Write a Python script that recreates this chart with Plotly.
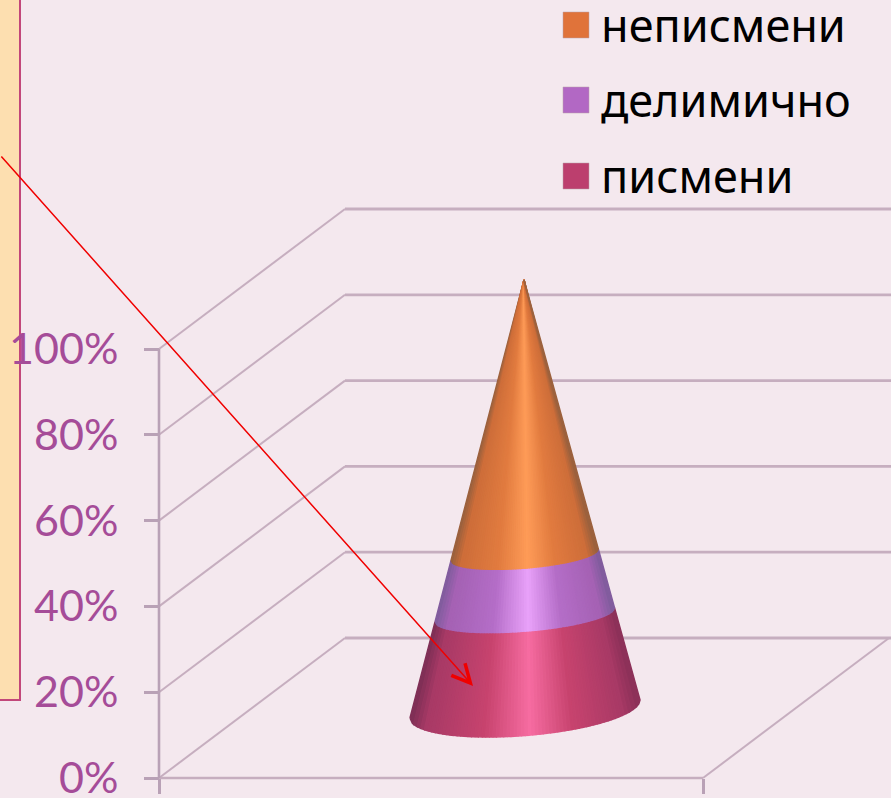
import numpy as np
import plotly.graph_objects as go

# --- data ---
series = ["писмени", "делимично", "неписмени"]
values = [22, 14, 64]
tick_values = [0, 20, 40, 60, 80, 100]
tick_labels = ["0%", "20%", "40%", "60%", "80%", "100%"]
legend_order = ["неписмени", "делимично", "писмени"]

# --- style ---
BG = "#F4E8EE"
GRID = "#C6AEBF"
AXIS = "#B9A1B6"
TICK_TXT = "#A54C98"
legend_colors = {"писмени": "#BC3F6E", "делимично": "#B268C4", "неписмени": "#E0733A"}
shades = {
    "писмени": ["#7C2E54", "#A83A66", "#C8446F", "#F76DA2", "#C8446F", "#A83A66", "#8A3058"],
    "делимично": ["#7E5C9C", "#A562B4", "#B56EC8", "#E9A2FA", "#B56EC8", "#A562B4", "#7E5C9C"],
    "неписмени": ["#96603E", "#CE6E3A", "#E27C40", "#FF9C58", "#E27C40", "#CE6E3A", "#96603E"],
}
shade_stops = [-1.0, -0.86, -0.35, 0.05, 0.42, 0.86, 1.0]

# --- pixel frame of the picture ---
W, H = 891, 798
PX_PER_PCT = 4.29
Y0_PX = 778
y_range = [(Y0_PX - H) / PX_PER_PCT, Y0_PX / PX_PER_PCT]
def py(px):
    return (Y0_PX - px) / PX_PER_PCT

X_LEFT, X_RIGHT = 159, 703
DEPTH_X, DEPTH_Y = 186, 140 / PX_PER_PCT


def hex2rgb(h):
    return np.array([int(h[i:i + 2], 16) for i in (1, 3, 5)], float)


def shade(stops, u):
    arr = np.array([hex2rgb(s) for s in stops])
    c = [np.interp(u, shade_stops, arr[:, i]) for i in range(3)]
    return "rgb(%d,%d,%d)" % tuple(c)


fig = go.Figure()


def frame(xs, ys, width, color=GRID):
    fig.add_trace(go.Scatter(x=xs, y=ys, mode="lines", showlegend=False, hoverinfo="skip",
                             line=dict(color=color, width=width)))


# walls and floor
for v in tick_values:
    frame([X_LEFT, X_LEFT + DEPTH_X], [v, v + DEPTH_Y], 2)
    frame([X_LEFT + DEPTH_X, W + 5], [v + DEPTH_Y, v + DEPTH_Y], 2.8)
frame([X_LEFT, X_RIGHT], [0, 0], 2.4)
frame([X_RIGHT, X_RIGHT + DEPTH_X], [0, DEPTH_Y], 2)
frame([X_LEFT, X_LEFT], [0, 100], 2.6, AXIS)

# cone
CX, CY = 525, py(709)
A_X, A_Y = 115, 9 / PX_PER_PCT
B = 26.5 / PX_PER_PCT
STRIPS = 64


def rim(f, u):
    t = np.arccos(np.clip(u, -1, 1))
    ratio = 1.0 if f == 0 else 0.8
    s = 1 - f
    return (CX - 1 * f + s * A_X * u,
            CY + f * 100 + s * A_Y * u - s * ratio * B * np.sin(t))


edges = np.linspace(-1, 1, STRIPS + 1)
bottoms = np.concatenate([[0], np.cumsum(values)[:-1]]) / 100
tops = np.cumsum(values) / 100
for name, f0, f1 in zip(series, bottoms, tops):
    for u0, u1 in zip(edges[:-1], edges[1:]):
        us = np.linspace(u0, u1, 4)
        low = [rim(f0, u) for u in us]
        high = [rim(f1, u) for u in us[::-1]]
        pts = low + high + [low[0]]
        col = shade(shades[name], (u0 + u1) / 2)
        fig.add_trace(go.Scatter(x=[p[0] for p in pts], y=[p[1] for p in pts], mode="lines",
                                 fill="toself", fillcolor=col, line=dict(color=col, width=1.5),
                                 showlegend=False, hoverinfo="skip"))

# legend
legend_y = [25, 100, 176]
for name, yp in zip(legend_order, legend_y):
    fig.add_trace(go.Scatter(x=[576], y=[py(yp)], mode="markers", showlegend=False, hoverinfo="skip",
                             marker=dict(symbol="square", size=26, color=legend_colors[name],
                                         line=dict(color="#B9A1A8", width=0.5))))
annotations = [dict(x=599, y=py(yp - 1), text=name, showarrow=False, xanchor="left", yanchor="middle",
                    font=dict(family="Noto Sans", size=45, color="#000000"))
               for name, yp in zip(legend_order, legend_y)]

# red arrow
annotations.append(dict(x=473, y=py(686), ax=0, ay=py(155), axref="x", ayref="y", xref="x", yref="y",
                        text="", showarrow=True, arrowhead=5, arrowsize=2.4, arrowwidth=1.5,
                        arrowcolor="#F00000", standoff=0))

fig.update_layout(
    width=W, height=H, margin=dict(l=0, r=0, t=0, b=0), autosize=False,
    paper_bgcolor=BG, plot_bgcolor=BG, showlegend=False,
    xaxis=dict(range=[0, W], domain=[0, 1], showgrid=False, zeroline=False, showline=False,
               anchor="free", position=(H - Y0_PX) / H, tickvals=[X_LEFT, X_RIGHT], ticktext=["", ""],
               ticks="outside", ticklen=15, tickwidth=2.6, tickcolor=AXIS),
    yaxis=dict(range=y_range, domain=[0, 1], showgrid=False, zeroline=False, showline=False,
               anchor="free", position=X_LEFT / W, tickvals=tick_values, ticktext=tick_labels,
               ticks="outside", ticklen=15, tickwidth=3, tickcolor=AXIS, ticklabelstandoff=17,
               ticklabeloverflow="allow", automargin=False,
               tickfont=dict(family="Lato", size=43, color=TICK_TXT)),
    shapes=[dict(type="rect", xref="paper", yref="paper", x0=-0.01, x1=20 / W,
                 y0=(H - 700) / H, y1=1.01, fillcolor="#FDDFB0",
                 line=dict(color="#C2477A", width=2), layer="below")],
    annotations=annotations,
)

fig.write_html("out.html", config={"displayModeBar": False},
               post_script="document.body.style.margin='0';document.body.style.overflow='hidden';")
